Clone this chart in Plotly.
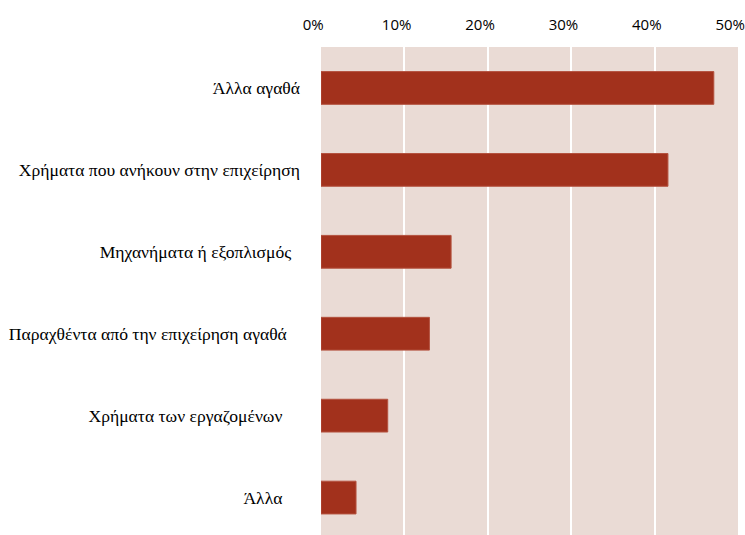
import plotly.graph_objects as go

# Categories listed top to bottom, with their shares (fractions)
categories = [
    "Άλλα αγαθά",
    "Χρήματα που ανήκουν στην επιχείρηση",
    "Μηχανήματα ή εξοπλισμός",
    "Παραχθέντα από την επιχείρηση αγαθά",
    "Χρήματα των εργαζομένων",
    "Άλλα",
]
shares = [0.471, 0.416, 0.156, 0.130, 0.080, 0.042]

# Trailing padding per label (non-breaking spaces)
label_pad = [0, 0, 2, 3, 4, 4]
tick_text = [c + "\u00a0" * p for c, p in zip(categories, label_pad)]

x_ticks = [0, 0.1, 0.2, 0.3, 0.4, 0.5]
x_tick_labels = ["0%", "10%", "20%", "30%", "40%", "50%"]
# percentage labels sit slightly left of their gridlines
x_tick_text = [t + "\u00a0" * 4 for t in x_tick_labels]

BAR = "#A2311C"
BG = "#EADBD5"

fig = go.Figure(
    go.Bar(
        x=shares,
        y=categories,
        orientation="h",
        width=0.4,
        marker=dict(color=BAR, line=dict(color="#B4523F", width=1)),
        hoverinfo="skip",
    )
)

fig.update_layout(
    width=745,
    height=535,
    margin=dict(l=321, r=7, t=47, b=0),
    paper_bgcolor="white",
    plot_bgcolor=BG,
    showlegend=False,
    bargap=0.6,
)

fig.update_xaxes(
    side="top",
    range=[0, 0.5],
    tickvals=x_ticks,
    ticktext=x_tick_text,
    showgrid=True,
    gridcolor="white",
    gridwidth=2,
    zeroline=False,
    showline=False,
    ticks="",
    ticklabelstandoff=13,
    ticklabeloverflow="allow",
    automargin=False,
    tickfont=dict(family="Open Sans, Liberation Sans, sans-serif", size=15, color="#000000"),
    fixedrange=True,
)

fig.update_yaxes(
    type="category",
    categoryorder="array",
    categoryarray=categories,
    tickvals=categories,
    ticktext=tick_text,
    range=[5.457, -0.5],
    showgrid=False,
    zeroline=False,
    showline=False,
    ticks="",
    ticklabelstandoff=20,
    automargin=False,
    tickfont=dict(family="Liberation Serif, Times New Roman, serif", size=17.6, color="#000000"),
    fixedrange=True,
)

fig.write_html("out.html")
